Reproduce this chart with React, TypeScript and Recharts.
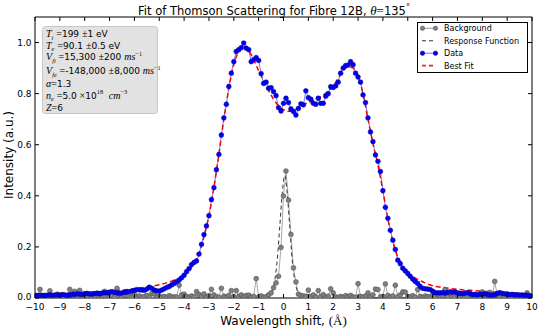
import React from 'react';
import { LineChart, Line, XAxis, YAxis, ReferenceArea, Legend } from 'recharts';

// Wavelength grid of the measured spectra
const WL_START = -10;
const WL_STEP = 0.1;

// Measured Thomson spectrum (blue)
const dataIntensity = [
  0.010, 0.009, 0.011, 0.010, 0.009, 0.011, 0.012, 0.010, 0.011, 0.012,
  0.011, 0.013, 0.012, 0.010, 0.012, 0.015, 0.014, 0.016, 0.015, 0.014,
  0.017, 0.018, 0.016, 0.015, 0.017, 0.018, 0.016, 0.019, 0.021, 0.020,
  0.023, 0.025, 0.022, 0.020, 0.018, 0.020, 0.022, 0.024, 0.025, 0.027,
  0.030, 0.033, 0.032, 0.031, 0.030, 0.035, 0.042, 0.038, 0.031, 0.028,
  0.027, 0.031, 0.036, 0.041, 0.045, 0.051, 0.057, 0.064, 0.070, 0.079,
  0.089, 0.103, 0.115, 0.131, 0.139, 0.145, 0.172, 0.210, 0.248, 0.282,
  0.322, 0.385, 0.432, 0.502, 0.562, 0.638, 0.705, 0.758, 0.828, 0.880,
  0.925, 0.965, 0.972, 0.980, 0.998, 0.978, 0.972, 0.925, 0.933, 0.941,
  0.930, 0.878, 0.840, 0.845, 0.821, 0.823, 0.808, 0.792, 0.745, 0.732,
  0.762, 0.782, 0.765, 0.740, 0.730, 0.716, 0.742, 0.760, 0.756, 0.811,
  0.784, 0.778, 0.762, 0.758, 0.782, 0.762, 0.762, 0.790, 0.800, 0.827,
  0.824, 0.830, 0.845, 0.880, 0.900, 0.910, 0.912, 0.925, 0.913, 0.880,
  0.865, 0.845, 0.795, 0.765, 0.705, 0.650, 0.612, 0.560, 0.535, 0.495,
  0.420, 0.355, 0.312, 0.265, 0.226, 0.190, 0.148, 0.134, 0.116, 0.106,
  0.096, 0.085, 0.074, 0.065, 0.057, 0.045, 0.038, 0.036, 0.035, 0.033,
  0.027, 0.021, 0.020, 0.020, 0.021, 0.019, 0.022, 0.024, 0.023, 0.024,
  0.020, 0.018, 0.017, 0.019, 0.021, 0.018, 0.013, 0.014, 0.012, 0.014,
  0.015, 0.016, 0.014, 0.012, 0.011, 0.013, 0.018, 0.021, 0.018, 0.016,
  0.015, 0.013, 0.014, 0.012, 0.013, 0.011, 0.012, 0.010, 0.011, 0.009,
  0.007,
];

// Background spectrum (grey)
const backgroundIntensity = [
  0.012, 0.008, 0.034, 0.006, 0.010, 0.004, 0.028, 0.007, 0.003, 0.015,
  0.005, 0.009, 0.002, 0.006, 0.034, 0.011, 0.026, 0.008, 0.030, 0.012,
  0.004, 0.009, 0.014, 0.003, 0.007, 0.019, 0.005, 0.010, 0.026, 0.006,
  0.002, 0.008, 0.004, 0.038, 0.009, 0.005, 0.012, 0.022, 0.006, 0.003,
  0.016, 0.004, 0.008, 0.002, 0.006, 0.010, 0.005, 0.018, 0.015, 0.004,
  0.008, 0.003, 0.006, 0.002, 0.009, 0.005, 0.004, 0.004, 0.050, 0.012,
  0.015, 0.006, 0.003, 0.008, 0.005, 0.025, 0.014, 0.006, 0.016, 0.004,
  0.009, 0.034, 0.012, 0.005, 0.003, 0.038, 0.007, 0.004, 0.010, 0.029,
  0.005, 0.029, 0.006, 0.012, 0.004, 0.010, 0.011, 0.003, 0.006, 0.076,
  0.004, 0.008, 0.002, 0.005, 0.012, 0.020, 0.040, 0.059, 0.085, 0.198,
  0.399, 0.497, 0.383, 0.249, 0.118, 0.063, 0.015, 0.010, 0.008, 0.006,
  0.031, 0.005, 0.012, 0.004, 0.029, 0.006, 0.013, 0.003, 0.007, 0.036,
  0.020, 0.004, 0.002, 0.006, 0.003, 0.009, 0.005, 0.010, 0.004, 0.002,
  0.056, 0.006, 0.003, 0.008, 0.020, 0.005, 0.012, 0.035, 0.033, 0.004,
  0.006, 0.055, 0.010, 0.003, 0.008, 0.050, 0.005, 0.012, 0.024, 0.023,
  0.006, 0.004, 0.009, 0.003, 0.033, 0.006, 0.002, 0.008, 0.005, 0.004,
  0.011, 0.003, 0.014, 0.006, 0.008, 0.033, 0.005, 0.018, 0.003, 0.006,
  0.012, 0.004, 0.008, 0.002, 0.006, 0.015, 0.005, 0.003, 0.009, 0.006,
  0.024, 0.010, 0.018, 0.022, 0.005, 0.065, 0.012, 0.004, 0.009, 0.006,
  0.016, 0.003, 0.007, 0.012, 0.005, 0.010, 0.004, 0.006, 0.020, 0.008,
  0.005,
];

// Best fit (red dashed)
const fitShift = [
  -10, -9, -8, -7, -6.5, -6, -5.5, -5, -4.5, -4.2,
  -4, -3.8, -3.6, -3.4, -3.2, -3, -2.8, -2.6, -2.4, -2.2,
  -2, -1.8, -1.6, -1.4, -1.2, -1, -0.8, -0.6, -0.4, -0.2,
  0, 0.2, 0.4, 0.6, 0.8, 1, 1.2, 1.4, 1.6, 1.8,
  2, 2.2, 2.4, 2.6, 2.8, 3, 3.2, 3.4, 3.6, 3.8,
  4, 4.2, 4.4, 4.6, 4.8, 5, 5.5, 6, 6.5, 7,
  7.5, 8, 8.5, 9, 9.5, 10,
];
const fitIntensity = [
  0.015, 0.018, 0.022, 0.027, 0.031, 0.036, 0.043, 0.052, 0.066, 0.078,
  0.090, 0.110, 0.135, 0.172, 0.240, 0.322, 0.432, 0.562, 0.700, 0.820,
  0.915, 0.965, 0.985, 0.970, 0.932, 0.890, 0.850, 0.812, 0.778, 0.752,
  0.737, 0.731, 0.734, 0.744, 0.756, 0.765, 0.772, 0.782, 0.795, 0.810,
  0.830, 0.860, 0.890, 0.905, 0.900, 0.870, 0.800, 0.700, 0.605, 0.520,
  0.420, 0.310, 0.222, 0.160, 0.125, 0.100, 0.068, 0.048, 0.040, 0.034,
  0.030, 0.026, 0.023, 0.020, 0.017, 0.015,
];

// Instrument response function (black dashed)
const responseShift = [-10, -0.85, -0.65, -0.55, -0.45, -0.35, -0.25, -0.15, -0.05, 0.05, 0.15, 0.25, 0.35, 0.45, 0.55, 0.65, 0.75, 0.95, 10];
const responseIntensity = [0, 0.001, 0.006, 0.012, 0.03, 0.07, 0.15, 0.28, 0.41, 0.48, 0.41, 0.28, 0.15, 0.07, 0.03, 0.012, 0.006, 0.001, 0];

const xTicks = [-10, -9, -8, -7, -6, -5, -4, -3, -2, -1, 0, 1, 2, 3, 4, 5, 6, 7, 8, 9, 10];
const yTicks = [0, 0.2, 0.4, 0.6, 0.8, 1.0];

const wavelengths = dataIntensity.map((_, i) => Math.round((WL_START + i * WL_STEP) * 10) / 10);
const dataRows = wavelengths.map((x, i) => ({ x, y: dataIntensity[i] }));
const bgRows = wavelengths.map((x, i) => ({ x, y: backgroundIntensity[i] }));
const fitRows = fitShift.map((x, i) => ({ x, y: fitIntensity[i] }));
const respRows = responseShift.map((x, i) => ({ x, y: responseIntensity[i] }));

// Layout
const W = 540;
const H = 328;
const M_TOP = 17;
const M_RIGHT = 8;
const X_AXIS_H = 30;
const Y_AXIS_W = 35;
const PLOT_TOP = M_TOP;
const PLOT_BOTTOM = H - X_AXIS_H;
const PLOT_LEFT = Y_AXIS_W;
const PLOT_RIGHT = W - M_RIGHT;
const TICK_LEN = 4;
const SANS = 'DejaVu Sans, sans-serif';
const SERIF = 'Liberation Serif, DejaVu Serif, serif';

const fmtX = (v: number) => (v < 0 ? '\u2212' + Math.abs(v) : String(v));

const XTick = (props: any) => {
  const { x, payload } = props;
  return (
    <g>
      <line x1={x} x2={x} y1={PLOT_BOTTOM} y2={PLOT_BOTTOM - TICK_LEN} stroke="#000" strokeWidth={1} />
      <line x1={x} x2={x} y1={PLOT_TOP} y2={PLOT_TOP + TICK_LEN} stroke="#000" strokeWidth={1} />
      <text x={x} y={PLOT_BOTTOM + 11.8} textAnchor="middle" fontSize={9} fontFamily={SANS} fill="#000">
        {fmtX(payload.value)}
      </text>
    </g>
  );
};

const YTick = (props: any) => {
  const { y, payload } = props;
  const v = Number(payload.value);
  const nudge = v === 0 ? -1.8 : 0;
  return (
    <g>
      <line x1={PLOT_LEFT} x2={PLOT_LEFT + TICK_LEN} y1={y} y2={y} stroke="#000" strokeWidth={1} />
      <line x1={PLOT_RIGHT} x2={PLOT_RIGHT - TICK_LEN} y1={y} y2={y} stroke="#000" strokeWidth={1} />
      <text x={PLOT_LEFT - 3.5} y={y + 3.3 + nudge} textAnchor="end" fontSize={9} fontFamily={SANS} fill="#000">
        {v.toFixed(1)}
      </text>
    </g>
  );
};

const seriesOrder = ['Background', 'Response Function', 'Data', 'Best Fit'];
const seriesStyle: Record<string, { stroke: string; dash?: string; width: number; marker?: string; markerEdge?: string }> = {
  Background: { stroke: '#9a9a9a', width: 1, marker: '#808080', markerEdge: '#555555' },
  'Response Function': { stroke: '#333333', dash: '4 3', width: 1 },
  Data: { stroke: '#7070ff', width: 1, marker: '#0000ff', markerEdge: '#00008b' },
  'Best Fit': { stroke: '#ff2020', dash: '4 3', width: 1.6 },
};

const renderLegend = (props: any) => {
  const payload = (props.payload || [])
    .slice()
    .sort((a: any, b: any) => seriesOrder.indexOf(a.value) - seriesOrder.indexOf(b.value));
  return (
    <svg width={111} height={51} style={{ display: 'block' }}>
      <rect x={0.5} y={0.5} width={110} height={50} fill="#ffffff" stroke="#000" strokeWidth={1} />
      {payload.map((entry: any, i: number) => {
        const s = seriesStyle[entry.value];
        if (!s) return null;
        const cy = 6.3 + i * 12.45;
        return (
          <g key={entry.value}>
            <line x1={5} x2={19} y1={cy} y2={cy} stroke={s.stroke} strokeWidth={s.width} strokeDasharray={s.dash} />
            {s.marker ? (
              <>
                <circle cx={5.5} cy={cy} r={2.2} fill={s.marker} stroke={s.markerEdge} strokeWidth={0.5} />
                <circle cx={18.5} cy={cy} r={2.2} fill={s.marker} stroke={s.markerEdge} strokeWidth={0.5} />
              </>
            ) : null}
            <text x={27} y={cy + 3} fontSize={8} fontFamily={SANS} fill="#000">
              {entry.value}
            </text>
          </g>
        );
      })}
    </svg>
  );
};

type Seg = { t: string; math?: boolean; it?: boolean; pos?: 'sub' | 'sup' };

const MathLine = ({ x, y, segs, size }: { x: number; y: number; segs: Seg[]; size: number }) => {
  let cur = 0;
  return (
    <text x={x} y={y} fontSize={size} fontFamily={SANS} fill="#000" style={{ whiteSpace: 'pre' }}>
      {segs.map((s, i) => {
        const shift = s.pos === 'sub' ? size * 0.3 : s.pos === 'sup' ? -size * 0.45 : 0;
        const dy = shift - cur;
        cur = shift;
        const fs = s.pos ? size * 0.7 : s.math ? size * 1.12 : size;
        return (
          <tspan
            key={i}
            dy={dy}
            fontSize={fs}
            fontFamily={s.math ? SERIF : SANS}
            fontStyle={s.it ? 'italic' : 'normal'}
          >
            {s.t}
          </tspan>
        );
      })}
    </text>
  );
};

const infoLines: { y: number; segs: Seg[] }[] = [
  { y: 37, segs: [{ t: 'T', math: true, it: true }, { t: 'i', math: true, it: true, pos: 'sub' }, { t: ' ' }, { t: '=', math: true }, { t: '199 ' }, { t: '\u00b1', math: true }, { t: '1 eV' }] },
  { y: 48.5, segs: [{ t: 'T', math: true, it: true }, { t: 'e', math: true, it: true, pos: 'sub' }, { t: ' ' }, { t: '=', math: true }, { t: '90.1 ' }, { t: '\u00b1', math: true }, { t: '0.5 eV' }] },
  { y: 60, segs: [{ t: 'V', math: true, it: true }, { t: 'fi', math: true, it: true, pos: 'sub' }, { t: ' ' }, { t: '=', math: true }, { t: '15,300 ' }, { t: '\u00b1', math: true }, { t: '200 ' }, { t: 'ms', math: true, it: true }, { t: '\u22121', math: true, pos: 'sup' }] },
  { y: 74, segs: [{ t: 'V', math: true, it: true }, { t: 'fe', math: true, it: true, pos: 'sub' }, { t: ' ' }, { t: '=', math: true }, { t: '-148,000 ' }, { t: '\u00b1', math: true }, { t: '8,000 ' }, { t: 'ms', math: true, it: true }, { t: '\u22121', math: true, pos: 'sup' }] },
  { y: 86.5, segs: [{ t: '\u03b1', math: true, it: true }, { t: '=', math: true }, { t: '1.3' }] },
  { y: 98.5, segs: [{ t: 'n', math: true, it: true }, { t: 'e', math: true, it: true, pos: 'sub' }, { t: ' ' }, { t: '=', math: true }, { t: '5.0 ' }, { t: '\u00d7', math: true }, { t: '10' }, { t: '18', math: true, pos: 'sup' }, { t: '  ' }, { t: 'cm', math: true, it: true }, { t: '\u22123', math: true, pos: 'sup' }] },
  { y: 110.5, segs: [{ t: 'Z', math: true, it: true }, { t: '=', math: true }, { t: '6' }] },
];

export default function App() {
  return (
    <div style={{ position: 'absolute', left: 0, top: 0, width: W, height: H, background: '#fff' }}>
      <LineChart width={W} height={H} margin={{ top: M_TOP, right: M_RIGHT, left: 0, bottom: 0 }}>
        <XAxis
          dataKey="x"
          type="number"
          domain={[-10, 10]}
          ticks={xTicks}
          interval={0}
          height={X_AXIS_H}
          axisLine={false}
          tickLine={false}
          allowDataOverflow
          allowDuplicatedCategory={false}
          tick={(p: any) => <XTick {...p} />}
        />
        <YAxis
          type="number"
          domain={[0, 1.1]}
          ticks={yTicks}
          interval={0}
          width={Y_AXIS_W}
          axisLine={false}
          tickLine={false}
          allowDataOverflow
          tick={(p: any) => <YTick {...p} />}
        />
        <Line
          name="Background"
          data={bgRows}
          dataKey="y"
          type="linear"
          stroke="#a8a8a8"
          strokeWidth={1}
          dot={{ r: 2.4, fill: '#808080', stroke: '#505050', strokeWidth: 0.6 }}
          activeDot={false}
          isAnimationActive={false}
        />
        <Line
          name="Response Function"
          data={respRows}
          dataKey="y"
          type="monotone"
          stroke="#333333"
          strokeWidth={1}
          strokeDasharray="4 3"
          dot={false}
          activeDot={false}
          isAnimationActive={false}
        />
        <Line
          name="Data"
          data={dataRows}
          dataKey="y"
          type="linear"
          stroke="#7878ff"
          strokeWidth={1}
          dot={{ r: 2.4, fill: '#0000ff', stroke: '#00008b', strokeWidth: 0.5 }}
          activeDot={false}
          isAnimationActive={false}
        />
        <Line
          name="Best Fit"
          data={fitRows}
          dataKey="y"
          type="monotone"
          stroke="#ff0000"
          strokeWidth={1.5}
          strokeDasharray="5 3"
          dot={false}
          activeDot={false}
          isAnimationActive={false}
        />
        <ReferenceArea x1={-10} x2={10} y1={0} y2={1.1} fill="none" fillOpacity={0} stroke="#000" strokeWidth={1} />
        <Legend
          layout="horizontal"
          verticalAlign="middle"
          align="center"
          content={renderLegend}
          wrapperStyle={{ position: 'absolute', left: 417, top: 22, width: 111, height: 51 }}
        />
      </LineChart>
      <svg
        width={W}
        height={H}
        style={{ position: 'absolute', left: 0, top: 0, pointerEvents: 'none' }}
      >
        <text x={274} y={14.5} textAnchor="middle" fontSize={11.5} fontFamily={SANS} fill="#000" style={{ whiteSpace: 'pre' }}>
          <tspan>Fit of Thomson Scattering for Fibre 12B, </tspan>
          <tspan fontFamily={SERIF} fontStyle="italic" fontSize={13}>{'\u03b8'}</tspan>
          <tspan fontFamily={SERIF} fontSize={13}>=</tspan>
          <tspan>135</tspan>
          <tspan fontSize={8} dy={-5}>{'\u00b0'}</tspan>
        </text>
        <text x={283.5} y={325} textAnchor="middle" fontSize={12} fontFamily={SANS} fill="#000" style={{ whiteSpace: 'pre' }}>
          <tspan>Wavelength shift, </tspan>
          <tspan fontFamily={SERIF} fontSize={13}>(Å)</tspan>
        </text>
        <text transform={`translate(13.3, 155) rotate(-90)`} textAnchor="middle" fontSize={12} fontFamily={SANS} fill="#000">
          Intensity (a.u.)
        </text>
        <rect x={42.5} y={26.5} width={115} height={87} rx={3} ry={3} fill="#e2e2e2" stroke="#c8c8c8" strokeWidth={1} />
        {infoLines.map((ln, i) => (
          <MathLine key={i} x={46} y={ln.y} segs={ln.segs} size={9} />
        ))}
      </svg>
    </div>
  );
}
